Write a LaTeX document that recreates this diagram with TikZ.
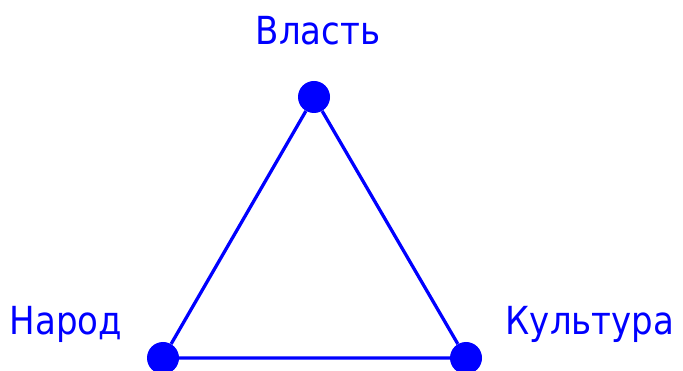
\documentclass[tikz,border=0pt]{standalone}
\usepackage{fontspec}
\setmainfont{DejaVu Sans}
\newfontfamily\labelfont[FakeStretch=0.88]{DejaVu Sans}
\definecolor{pureblue}{RGB}{0,0,255}
\usetikzlibrary{positioning}

\begin{document}
\begin{tikzpicture}[x=0.03cm, y=0.03cm,
    dot/.style={circle, fill=pureblue, inner sep=0pt, minimum size=0.96cm},
    lbl/.style={text=pureblue, anchor=base, font=\labelfont\fontsize{33}{38}\selectfont},
    side/.style={draw=pureblue, line width=2.8pt}]
    \useasboundingbox (0,0) rectangle (683,371);
    % vertices
    \node[dot] (vlast) at (314,274) {};
    \node[dot] (narod) at (163,13) {};
    \node[dot] (kultura) at (466,13) {};
    % sides
    \draw[side] (vlast) -- (narod) -- (kultura) -- (vlast);
    % labels
    \node[lbl] (vlastlbl) at (318,326) {Власть};
    \node[lbl] (narodlbl) at (66,36) {Народ};
    \node[lbl] (kulturalbl) at (590,36) {Культура};
\end{tikzpicture}
\end{document}
